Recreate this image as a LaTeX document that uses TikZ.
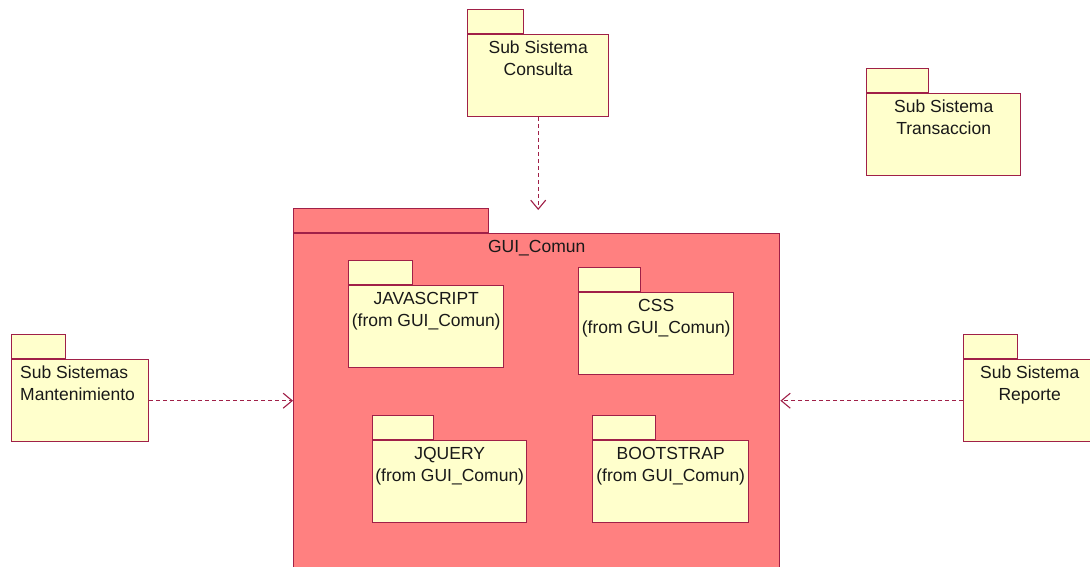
\documentclass[tikz,border=0pt]{standalone}
\usepackage{fontspec}
\setmainfont{Liberation Sans}
\usetikzlibrary{arrows.meta, positioning}
\definecolor{umlborder}{RGB}{160,32,72}
\definecolor{umlyellow}{RGB}{255,255,204}
\definecolor{umlred}{RGB}{255,128,128}

\begin{document}
\begin{tikzpicture}[
    x=1pt, y=-1pt,
    tab/.style={rectangle, draw=umlborder, fill=umlyellow, line width=1.4pt, minimum height=24pt, inner sep=0pt, anchor=south west},
    pkg/.style={rectangle, draw=umlborder, fill=umlyellow, line width=1.4pt, minimum height=82pt, inner sep=0pt, anchor=north west},
    pkgtext/.style={align=center, inner sep=0pt, font=\fontsize{17.5pt}{22pt}\selectfont, text=black!90},
    dep/.style={-{Straight Barb[length=9pt, width=15pt]}, dashed, dash pattern=on 4pt off 3pt, line width=1.1pt, umlborder},
]
    \useasboundingbox (0,0) rectangle (1090,566);

    % outer package
    \node[tab, fill=umlred, minimum width=195pt] (guiTab) at (293,233) {};
    \node[pkg, fill=umlred, minimum width=486pt, minimum height=345pt] (gui) at (293,233) {};
    \node[pkgtext, below=7pt of gui.north] (guiText) {GUI\_Comun};

    % inner packages
    \node[tab, minimum width=64pt] (jsTab) at (348,285) {};
    \node[pkg, minimum width=155pt] (js) at (348,285) {};
    \node[pkgtext, below=7pt of js.north] (jsText) {JAVASCRIPT\\(from GUI\_Comun)};

    \node[tab, minimum width=62pt] (cssTab) at (578,292) {};
    \node[pkg, minimum width=155pt] (css) at (578,292) {};
    \node[pkgtext, below=7pt of css.north] (cssText) {CSS\\(from GUI\_Comun)};

    \node[tab, minimum width=61pt] (jqTab) at (372,440) {};
    \node[pkg, minimum width=154pt] (jq) at (372,440) {};
    \node[pkgtext, below=7pt of jq.north] (jqText) {JQUERY\\(from GUI\_Comun)};

    \node[tab, minimum width=63pt] (bsTab) at (592,440) {};
    \node[pkg, minimum width=156pt] (bs) at (592,440) {};
    \node[pkgtext, below=7pt of bs.north] (bsText) {BOOTSTRAP\\(from GUI\_Comun)};

    % sub systems
    \node[tab, minimum width=56pt] (conTab) at (467,34) {};
    \node[pkg, minimum width=141pt] (con) at (467,34) {};
    \node[pkgtext, below=7pt of con.north] (conText) {Sub Sistema\\Consulta};

    \node[tab, minimum width=62pt] (traTab) at (866,93) {};
    \node[pkg, minimum width=154pt] (tra) at (866,93) {};
    \node[pkgtext, below=7pt of tra.north] (traText) {Sub Sistema\\Transaccion};

    \node[tab, minimum width=54pt] (manTab) at (11,359) {};
    \node[pkg, minimum width=137pt] (man) at (11,359) {};
    \node[pkgtext, align=left, anchor=north west, xshift=9pt, yshift=-7pt] (manText) at (man.north west) {Sub Sistemas\\Mantenimiento};

    \node[tab, minimum width=54pt] (repTab) at (963,359) {};
    \node[pkg, minimum width=140pt] (rep) at (963,359) {};
    \node[pkgtext, below=7pt of rep.north, xshift=-4pt] (repText) {Sub Sistema\\Reporte};

    % dependencies
    \coordinate (conEnd) at (con.south |- 0,210);
    \draw[dep] (con.south) -- (conEnd);
    \draw[dep] (man.east) -- (man.east -| gui.west);
    \draw[dep] (rep.west) -- (rep.west -| gui.east);
\end{tikzpicture}
\end{document}
